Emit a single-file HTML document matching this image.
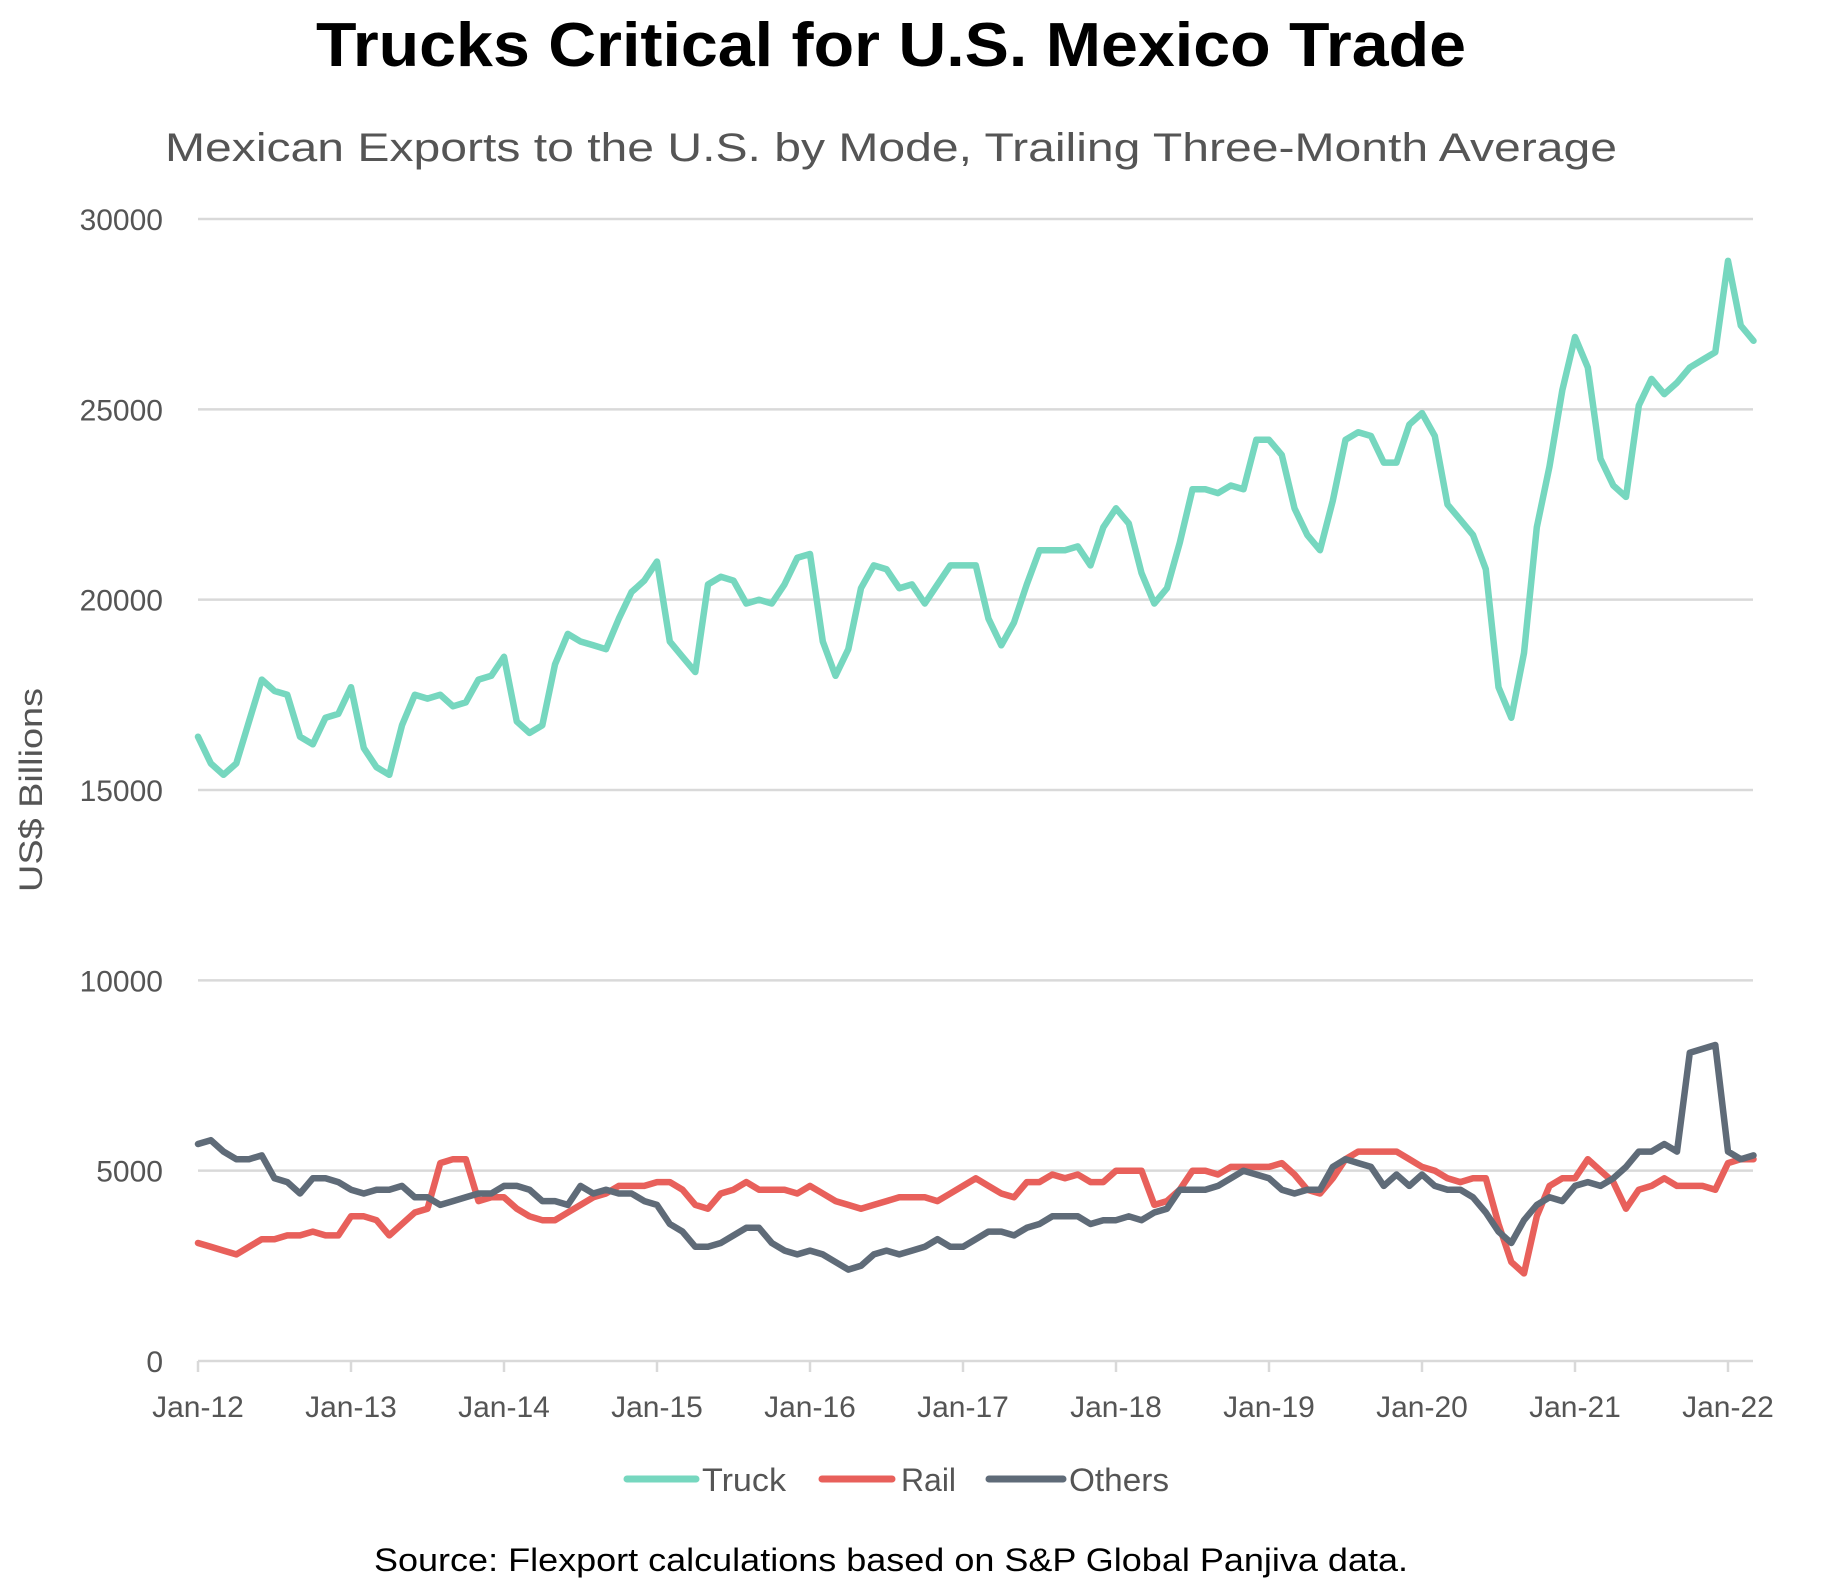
<!DOCTYPE html>
<html><head><meta charset="utf-8"><style>
html,body{margin:0;padding:0;background:#fff;}
svg{display:block;}
text{font-family:"Liberation Sans",sans-serif;}
</style></head><body>
<svg id="chart" width="1845" height="1596" viewBox="0 0 1845 1596" xmlns="http://www.w3.org/2000/svg">
<text x="891" y="66" text-anchor="middle" font-size="62" font-weight="bold" fill="#000" textLength="1150" lengthAdjust="spacingAndGlyphs">Trucks Critical for U.S. Mexico Trade</text>
<text x="891" y="161" text-anchor="middle" font-size="40" fill="#555" textLength="1452" lengthAdjust="spacingAndGlyphs">Mexican Exports to the U.S. by Mode, Trailing Three-Month Average</text>
<g id="grid"></g>
<g id="yticks"></g>
<g id="xticks"></g>
<text transform="translate(42,790) rotate(-90)" text-anchor="middle" font-size="32" fill="#555" textLength="204" lengthAdjust="spacingAndGlyphs">US$ Billions</text>
<g id="series"></g>
<g>
<g><line x1="627" y1="1479" x2="696" y2="1479" stroke="#76d7bf" stroke-width="7" stroke-linecap="round"/><text x="702" y="1491" font-size="32" fill="#555" textLength="84" lengthAdjust="spacingAndGlyphs">Truck</text></g>
<g><line x1="822" y1="1479" x2="892" y2="1479" stroke="#e8605b" stroke-width="7" stroke-linecap="round"/><text x="901" y="1491" font-size="32" fill="#555" textLength="55" lengthAdjust="spacingAndGlyphs">Rail</text></g>
<g><line x1="989" y1="1479" x2="1063" y2="1479" stroke="#5f6b78" stroke-width="7" stroke-linecap="round"/><text x="1069" y="1491" font-size="32" fill="#555" textLength="100" lengthAdjust="spacingAndGlyphs">Others</text></g>
</g>
<text x="891" y="1571" text-anchor="middle" font-size="32" fill="#000" textLength="1034" lengthAdjust="spacingAndGlyphs">Source: Flexport calculations based on S&amp;P Global Panjiva data.</text>
</svg>
<script>
const yTicks=[0,5000,10000,15000,20000,25000,30000];
const xTickLabels=["Jan-12","Jan-13","Jan-14","Jan-15","Jan-16","Jan-17","Jan-18","Jan-19","Jan-20","Jan-21","Jan-22"];
const truck=[16400,15700,15400,15700,16800,17900,17600,17500,16400,16200,16900,17000,
17700,16100,15600,15400,16700,17500,17400,17500,17200,17300,17900,18000,
18500,16800,16500,16700,18300,19100,18900,18800,18700,19500,20200,20500,
21000,18900,18500,18100,20400,20600,20500,19900,20000,19900,20400,21100,
21200,18900,18000,18700,20300,20900,20800,20300,20400,19900,20400,20900,
20900,20900,19500,18800,19400,20400,21300,21300,21300,21400,20900,21900,
22400,22000,20700,19900,20300,21500,22900,22900,22800,23000,22900,24200,
24200,23800,22400,21700,21300,22600,24200,24400,24300,23600,23600,24600,
24900,24300,22500,22100,21700,20800,17700,16900,18600,21900,23500,25500,
26900,26100,23700,23000,22700,25100,25800,25400,25700,26100,26300,26500,
28900,27200,26800];
const rail=[3100,3000,2900,2800,3000,3200,3200,3300,3300,3400,3300,3300,
3800,3800,3700,3300,3600,3900,4000,5200,5300,5300,4200,4300,
4300,4000,3800,3700,3700,3900,4100,4300,4400,4600,4600,4600,
4700,4700,4500,4100,4000,4400,4500,4700,4500,4500,4500,4400,
4600,4400,4200,4100,4000,4100,4200,4300,4300,4300,4200,4400,
4600,4800,4600,4400,4300,4700,4700,4900,4800,4900,4700,4700,
5000,5000,5000,4100,4200,4500,5000,5000,4900,5100,5100,5100,
5100,5200,4900,4500,4400,4800,5300,5500,5500,5500,5500,5300,
5100,5000,4800,4700,4800,4800,3600,2600,2300,3800,4600,4800,
4800,5300,5000,4700,4000,4500,4600,4800,4600,4600,4600,4500,
5200,5300,5300];
const others=[5700,5800,5500,5300,5300,5400,4800,4700,4400,4800,4800,4700,
4500,4400,4500,4500,4600,4300,4300,4100,4200,4300,4400,4400,
4600,4600,4500,4200,4200,4100,4600,4400,4500,4400,4400,4200,
4100,3600,3400,3000,3000,3100,3300,3500,3500,3100,2900,2800,
2900,2800,2600,2400,2500,2800,2900,2800,2900,3000,3200,3000,
3000,3200,3400,3400,3300,3500,3600,3800,3800,3800,3600,3700,
3700,3800,3700,3900,4000,4500,4500,4500,4600,4800,5000,4900,
4800,4500,4400,4500,4500,5100,5300,5200,5100,4600,4900,4600,
4900,4600,4500,4500,4300,3900,3400,3100,3700,4100,4300,4200,
4600,4700,4600,4800,5100,5500,5500,5700,5500,8100,8200,8300,
5500,5300,5400];
const seriesNames=["truck","rail","others"];
const seriesColors=["#76d7bf","#e8605b","#5f6b78"];

const NS="http://www.w3.org/2000/svg";
const X0=198,X1=1753,MONTH=12.75,Y0=1361,YTOP=219,YMAX=30000;
function xScale(i){return X0+i*MONTH;}
function yScale(v){return Y0-(v/YMAX)*(Y0-YTOP);}
function mk(tag,attrs,parent){const e=document.createElementNS(NS,tag);for(const k in attrs)e.setAttribute(k,attrs[k]);parent.appendChild(e);return e;}

const grid=document.getElementById('grid'),yt=document.getElementById('yticks'),xt=document.getElementById('xticks'),ser=document.getElementById('series');
yTicks.forEach(v=>{
  const l=mk('line',{x1:X0,x2:X1,y1:yScale(v),y2:yScale(v),stroke:'#d9d9d9','stroke-width':2.5},grid);
  
  
  const t=mk('text',{x:163,y:yScale(v)+11,'text-anchor':'end','font-size':30,fill:'#555'},yt);
  t.textContent=String(v);
  
  
});
xTickLabels.forEach((lab,k)=>{
  const x=xScale(k*12);
  const tk=mk('line',{x1:x,x2:x,y1:Y0,y2:Y0+11,stroke:'#d9d9d9','stroke-width':2.5},xt);
  
  
  const t=mk('text',{x:x,y:1417,'text-anchor':'middle','font-size':30,fill:'#555'},xt);
  t.textContent=lab;
  
  
});
[truck,rail,others].forEach((arr,si)=>{
  const d=arr.map((v,i)=>(i?'L':'M')+xScale(i).toFixed(1)+','+yScale(v).toFixed(1)).join(' ');
  const p=mk('path',{d:d,fill:'none',stroke:seriesColors[si],'stroke-width':6.5,'stroke-linejoin':'round','stroke-linecap':'round'},ser);
  
  
});
</script>
</body></html>
